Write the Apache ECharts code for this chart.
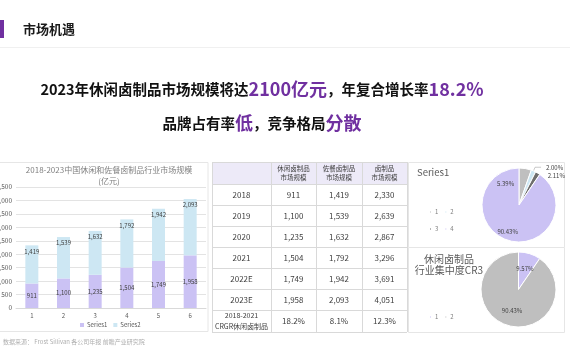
<!DOCTYPE html>
<html><head><meta charset="utf-8">
<script src="https://cdn.jsdelivr.net/npm/echarts@6/dist/echarts.min.js"></script>
<style>html,body{margin:0;padding:0;background:#fff}#c{width:570px;height:360px}</style>
</head><body><div id="c"></div>
<script>
// ---- data ----
var categories = ['1','2','3','4','5','6'];
var series1 = [911, 1100, 1235, 1504, 1749, 1958];
var series2 = [1419, 1539, 1632, 1792, 1942, 2093];
var yTicks = { min: 0, max: 4500, interval: 500 };
var tableYears = ['2018','2019','2020','2021','2022E','2023E'];
var tableHeaders = ['休闲卤制品\n市场规模','佐餐卤制品\n市场规模','卤制品\n市场规模'];
var tableLeisure = [911, 1100, 1235, 1504, 1749, 1958];
var tableMeal = [1419, 1539, 1632, 1792, 1942, 2093];
var tableTotal = [2330, 2639, 2867, 3296, 3691, 4051];
var cagrLabel = '2018-2021\nCRGR休闲卤制品';
var cagrValues = ['18.2%','8.1%','12.3%'];
var pie1Names = ['1','2','3','4'];
var pie1Values = [5.39, 2.00, 2.11, 90.43];
var pie2Names = ['1','2'];
var pie2Values = [9.57, 90.43];

var LAV = '#CBC2F4', BLUE = '#CDE7F3', GRAY = '#BFBFBF', DGRAY = '#6E6E6E', PURPLE = '#7030A0';
var FONT = '"Noto Sans CJK SC","Noto Sans",sans-serif';
var fmt = function(v){ return Number(v).toLocaleString('en-US'); };
var pct = function(p){ return p.value.toFixed(2)+'%'; };

// ---- table graphic ----
var colX = [212, 271, 316, 362, 407];
var rowY = [162, 184, 205, 226, 247, 268, 289, 310, 332];
var tbl = [];
tbl.push({type:'rect', shape:{x:colX[0], y:rowY[0], width:colX[4]-colX[0], height:rowY[1]-rowY[0]}, style:{fill:'#EDEAF8'}});
for (var i=0;i<rowY.length;i++) tbl.push({type:'line', shape:{x1:colX[0],y1:rowY[i]+0.5,x2:colX[4],y2:rowY[i]+0.5}, style:{stroke:'#D9D9D9',lineWidth:1}});
for (var j=0;j<colX.length;j++) tbl.push({type:'line', shape:{x1:colX[j]+0.5,y1:rowY[0],x2:colX[j]+0.5,y2:rowY[rowY.length-1]}, style:{stroke:'#D9D9D9',lineWidth:1}});
function cell(c, r, txt, size, lh){
  tbl.push({type:'text', style:{x:(colX[c]+colX[c+1])/2, y:(rowY[r]+rowY[r+1])/2, text:txt, align:'center', verticalAlign:'middle', fill:'#404040', font:size+'px '+FONT, lineHeight:lh||size+2}});
}
for (var h=0;h<tableHeaders.length;h++) cell(h+1, 0, tableHeaders[h], 6.5, 8.7);
for (var r=0;r<tableYears.length;r++){
  cell(0, r+1, tableYears[r], 8);
  cell(1, r+1, fmt(tableLeisure[r]), 8);
  cell(2, r+1, fmt(tableMeal[r]), 8);
  cell(3, r+1, fmt(tableTotal[r]), 8);
}
cell(0, 7, cagrLabel, 7, 11);
for (var k=0;k<cagrValues.length;k++) cell(k+1, 7, cagrValues[k], 8);

var chart = echarts.init(document.getElementById('c'));
chart.setOption({
  animation: false,
  textStyle: { fontFamily: FONT },
  title: [{
    text: '2018-2023中国休闲和佐餐卤制品行业市场规模\n(亿元)',
    left: 109, top: 165, textAlign: 'center', padding: 0,
    textStyle: { fontSize: 8, fontWeight: 'normal', color: '#7F7F7F', lineHeight: 10.5, fontFamily: FONT }
  }, {
    text: 'Series1', left: 417, top: 168, padding: 0,
    textStyle: { fontSize: 9.5, fontWeight: 'normal', color: '#595959', fontFamily: FONT }
  }, {
    text: '休闲卤制品\n行业集中度CR3', left: 449, top: 254, textAlign: 'center', padding: 0,
    textStyle: { fontSize: 10, fontWeight: 'normal', color: '#595959', lineHeight: 11, fontFamily: FONT }
  }],
  graphic: [
    { type:'rect', shape:{x:0,y:20,width:4,height:18}, style:{fill:PURPLE} },
    { type:'text', style:{x:23, y:29, text:'市场机遇', verticalAlign:'middle', fill:'#1a1a1a', font:'bold 13px '+FONT} },
    { type:'line', shape:{x1:0,y1:47.5,x2:570,y2:47.5}, style:{stroke:'#F0F0F0', lineWidth:1} },
    { type:'text', style:{x:262, y:89, align:'center', verticalAlign:'middle',
      text:'{b|2023年休闲卤制品市场规模将达}{p|2100亿元}{b|，年复合增长率}{p|18.2%}',
      rich:{ b:{fontSize:14.5, fontWeight:'bold', fill:'#111', fontFamily:FONT}, p:{fontSize:18, fontWeight:'bold', fill:PURPLE, fontFamily:FONT} } } },
    { type:'text', style:{x:262, y:123, align:'center', verticalAlign:'middle',
      text:'{b|品牌占有率}{p|低}{b|，竞争格局}{p|分散}',
      rich:{ b:{fontSize:14.5, fontWeight:'bold', fill:'#111', fontFamily:FONT}, p:{fontSize:18, fontWeight:'bold', fill:PURPLE, fontFamily:FONT} } } },
    { type:'rect', shape:{x:-1,y:162.5,width:209,height:169}, style:{fill:'none', stroke:'#E6E6E6', lineWidth:1} },
    { type:'rect', shape:{x:408.5,y:162.5,width:156,height:85}, style:{fill:'none', stroke:'#E6E6E6', lineWidth:1} },
    { type:'rect', shape:{x:408.5,y:247.5,width:156,height:85}, style:{fill:'none', stroke:'#E6E6E6', lineWidth:1} },
    { type:'group', children: tbl },
    { type:'text', style:{x:3, y:342, verticalAlign:'middle', text:'数据来源： Frost Sillivan 各公司年报 前瞻产业研究院', fill:'#AFAFAF', font:'6px '+FONT} }
  ],
  grid: { left: 16, top: 187, width: 190, height: 121, outerBoundsMode: 'none', containLabel: false },
  xAxis: {
    type: 'category', data: categories,
    axisLine: { lineStyle: { color: '#D9D9D9' } }, axisTick: { show: false },
    axisLabel: { fontSize: 6, color: '#595959', margin: 5 }
  },
  yAxis: {
    type: 'value', min: yTicks.min, max: yTicks.max, interval: yTicks.interval,
    axisLine: { show: false }, axisTick: { show: false },
    axisLabel: { fontSize: 6.5, color: '#595959', margin: 4, formatter: function(v){ return fmt(v); } },
    splitLine: { lineStyle: { color: '#E3E3E3' } }
  },
  legend: [{
    data: ['Series1','Series2'], left: 80, top: 322, padding: 0, itemWidth: 4, itemHeight: 4, itemGap: 6, icon: 'rect',
    textStyle: { fontSize: 6, color: '#595959', padding: [0,0,0,-2] }
  }, {
    data: [{name:'1', itemStyle:{color:GRAY}}, {name:'2', itemStyle:{color:BLUE}}],
    left: 428, top: 209, padding: 0, itemWidth: 3, itemHeight: 3, itemGap: 5, icon: 'rect',
    textStyle: { fontSize: 6, color: '#7F7F7F', padding: [0,0,0,-2] }
  }, {
    data: [{name:'3', itemStyle:{color:DGRAY}}, {name:'4', itemStyle:{color:LAV}}],
    left: 428, top: 226, padding: 0, itemWidth: 3, itemHeight: 3, itemGap: 5, icon: 'rect',
    textStyle: { fontSize: 6, color: '#7F7F7F', padding: [0,0,0,-2] }
  }, {
    data: [{name:'1', itemStyle:{color:LAV}}, {name:'2', itemStyle:{color:GRAY}}],
    left: 428, top: 314, padding: 0, itemWidth: 3, itemHeight: 3, itemGap: 5, icon: 'rect',
    textStyle: { fontSize: 6, color: '#7F7F7F', padding: [0,0,0,-2] }
  }],
  series: [{
    name: 'Series1', type: 'bar', stack: 'a', data: series1, barWidth: 13,
    itemStyle: { color: LAV },
    label: { show: true, position: 'inside', fontSize: 6, color: '#404040', formatter: function(p){ return fmt(p.value); } }
  }, {
    name: 'Series2', type: 'bar', stack: 'a', data: series2, barWidth: 13,
    itemStyle: { color: BLUE },
    label: { show: true, position: 'insideTop', distance: 3, fontSize: 6, color: '#404040', formatter: function(p){ return fmt(p.value); } }
  }, {
    name: 'pie1', type: 'pie', left: 0, top: 0, width: 800, height: 360,
    center: [519, 205], radius: 37, startAngle: 90,
    itemStyle: { borderColor: '#fff', borderWidth: 1 },
    label: { fontSize: 6, color: '#404040', formatter: pct },
    labelLine: { length: 4, length2: 6, lineStyle: { color: '#A6A6A6', width: 0.6 } },
    data: pie1Names.map(function(n,i){
      var colors = [GRAY, BLUE, DGRAY, LAV];
      var d = { name: n, value: pie1Values[i], itemStyle: { color: colors[i] } };
      if (i === 0) d.label = { position: 'inside', padding: [8, 34, 0, 0] };
      else if (i === 3) d.label = { position: 'inside', padding: [0, 10, 0, 0], lineHeight: 13, formatter: function(p){ return '\n' + pct(p); } };
      else if (i === 2) { d.label = { position: 'outside' }; d.labelLine = { show: false, length: 2, length2: 0 }; }
      else d.label = { position: 'outside' };
      return d;
    })
  }, {
    name: 'pie2', type: 'pie', center: [518.5, 289.5], radius: 37.5, startAngle: 90,
    itemStyle: { borderColor: '#fff', borderWidth: 1 },
    label: { position: 'inside', fontSize: 6, color: '#404040', formatter: pct },
    data: pie2Names.map(function(n,i){
      var colors = [LAV, GRAY];
      return { name: n, value: pie2Values[i], itemStyle: { color: colors[i] } };
    })
  }]
});
</script></body></html>
